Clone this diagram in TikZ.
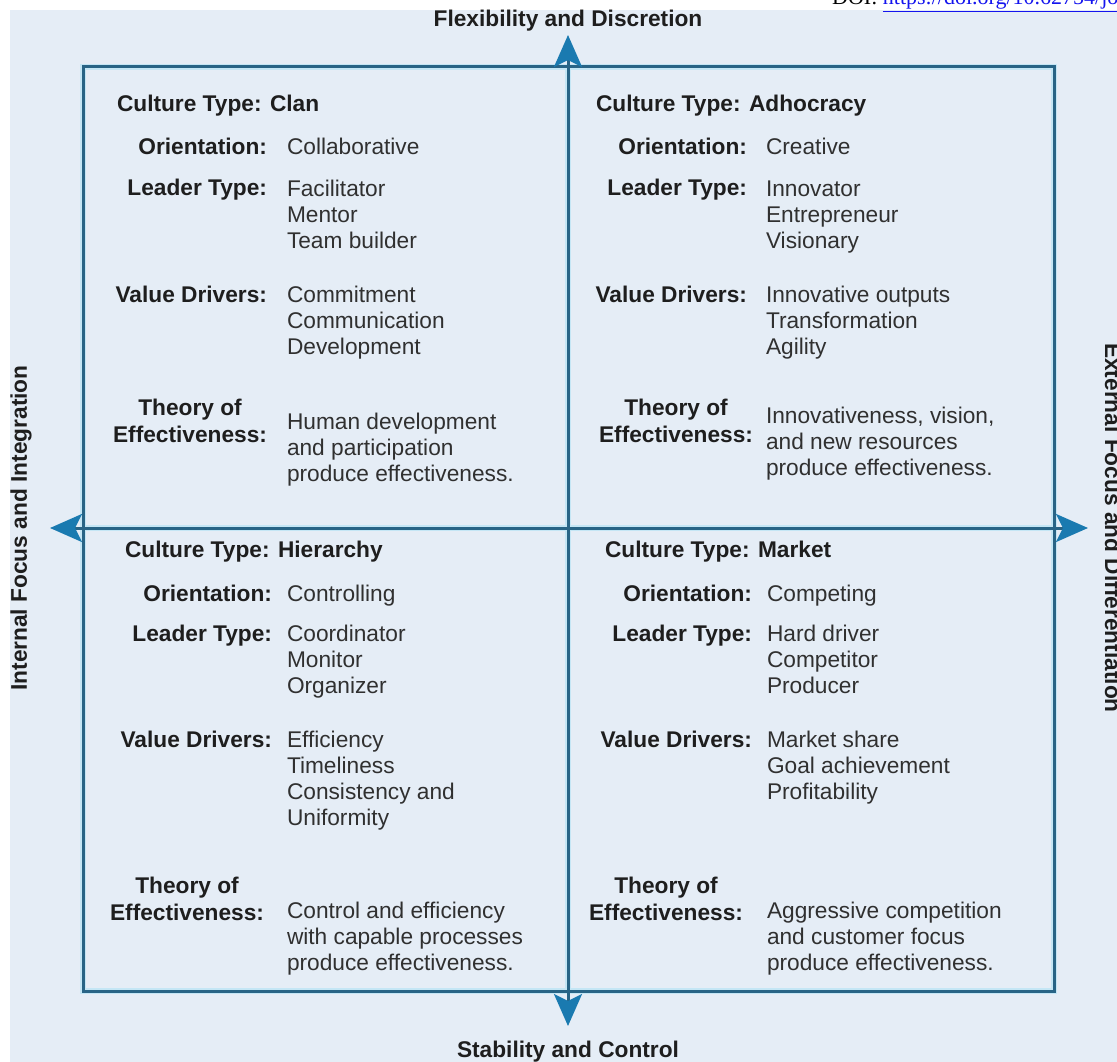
\documentclass[tikz,border=0pt]{standalone}
\usepackage{fontspec}
\setmainfont{Liberation Sans}
\newfontfamily\doifont{Liberation Serif}
\usetikzlibrary{arrows.meta}
\definecolor{bgblue}{RGB}{229,237,246}
\definecolor{framec}{RGB}{40,100,134}
\definecolor{haloc}{RGB}{196,230,245}
\definecolor{arrowc}{RGB}{26,122,176}
\definecolor{labc}{RGB}{30,30,30}
\definecolor{valc}{RGB}{48,48,48}
\definecolor{linkc}{RGB}{20,20,238}
\begin{document}
\begin{tikzpicture}[x=1pt,y=-1pt,
  basefont/.style={inner sep=0pt,outer sep=0pt,font=\fontsize{22.7}{26.3}\selectfont},
  boldfont/.style={inner sep=0pt,outer sep=0pt,font=\fontsize{22.7}{26.3}\selectfont\bfseries},
  titletext/.style={boldfont,text=labc,anchor=base west},
  labtext/.style={boldfont,text=labc,anchor=base east,align=right},
  theorytext/.style={boldfont,text=labc,anchor=base east,align=center,font=\fontsize{22.7}{27}\selectfont\bfseries},
  valtext/.style={basefont,text=valc,anchor=base west,align=left},
  axistext/.style={boldfont,text=labc,anchor=base},
  halo/.style={draw=haloc,line width=6pt},
  frameline/.style={draw=framec,line width=3pt},
  axisarrow/.style={draw=framec,line width=3pt,-{Stealth[length=32pt,width=28pt,inset=7pt,color=arrowc]}}
]
\useasboundingbox (0,0) rectangle (1117,1062);
\clip (0,0) rectangle (1117,1062);
\fill[white] (0,0) rectangle (1117,1062);
\fill[bgblue] (10,10) rectangle (1117,1062);

% DOI line (cut by the top edge)
\node[inner sep=0pt,anchor=base west,font=\doifont\fontsize{22}{24}\selectfont] (doi) at (832,5)
  {DOI: \textcolor{linkc}{\underline{https://doi.org/10.62754/jo}}};

% coordinates
\coordinate (c) at (568,528);
\coordinate (ttip) at (568,35);
\coordinate (btip) at (568,1026);
\coordinate (ltip) at (50,528);
\coordinate (rtip) at (1088,528);
\coordinate (ft) at (568,67);
\coordinate (fb) at (568,991);
\coordinate (fl) at (83,528);
\coordinate (fr) at (1054,528);

% frame
\path[halo] (83,67) rectangle (1054,991);
\path[halo] (ft) -- (fb);
\path[halo] (fl) -- (fr);
\path[frameline] (83,67) rectangle (1054,991);

% axes with arrows
\draw[axisarrow] (c) -- (ttip);
\draw[axisarrow] (c) -- (btip);
\draw[axisarrow] (c) -- (ltip);
\draw[axisarrow] (c) -- (rtip);

% axis labels
\node[axistext] (flex) at (568,27) {Flexibility and Discretion};
\node[axistext] (stab) at (568,1057) {Stability and Control};
\node[axistext,rotate=90] (intl) at (27,528) {Internal Focus and Integration};
\node[axistext,rotate=-90] (extl) at (1105,528) {External Focus and Differentiation};

% multi-line nodes are anchored at the baseline of their LAST line
% ---------- Clan ----------
\node[titletext] (tl-t) at (117,112) {Culture Type: Clan};
\node[labtext] (tl-ol) at (267,155) {Orientation:};
\node[valtext] (tl-ov) at (287,155) {Collaborative};
\node[labtext] (tl-ll) at (267,196) {Leader Type:};
\node[valtext] (tl-lv) at (287,248.6) {Facilitator\\Mentor\\Team builder};
\node[labtext] (tl-vl) at (267,302) {Value Drivers:};
\node[valtext] (tl-vv) at (287,354.6) {Commitment\\Communication\\Development};
\node[theorytext] (tl-el) at (267,442) {Theory of\\Effectiveness:};
\node[valtext] (tl-ev) at (287,481.6) {Human development\\and participation\\produce effectiveness.};

% ---------- Adhocracy ----------
\node[titletext] (tr-t) at (596,112) {Culture Type: Adhocracy};
\node[labtext] (tr-ol) at (747,155) {Orientation:};
\node[valtext] (tr-ov) at (766,155) {Creative};
\node[labtext] (tr-ll) at (747,196) {Leader Type:};
\node[valtext] (tr-lv) at (766,248.6) {Innovator\\Entrepreneur\\Visionary};
\node[labtext] (tr-vl) at (747,302) {Value Drivers:};
\node[valtext] (tr-vv) at (766,354.6) {Innovative outputs\\Transformation\\Agility};
\node[theorytext] (tr-el) at (753,442) {Theory of\\Effectiveness:};
\node[valtext] (tr-ev) at (766,475.6) {Innovativeness, vision,\\and new resources\\produce effectiveness.};

% ---------- Hierarchy ----------
\node[titletext] (bl-t) at (125,557) {Culture Type: Hierarchy};
\node[labtext] (bl-ol) at (272,601) {Orientation:};
\node[valtext] (bl-ov) at (287,601) {Controlling};
\node[labtext] (bl-ll) at (272,641) {Leader Type:};
\node[valtext] (bl-lv) at (287,693.6) {Coordinator\\Monitor\\Organizer};
\node[labtext] (bl-vl) at (272,747) {Value Drivers:};
\node[valtext] (bl-vv) at (287,825.9) {Efficiency\\Timeliness\\Consistency and\\Uniformity};
\node[theorytext] (bl-el) at (264,920) {Theory of\\Effectiveness:};
\node[valtext] (bl-ev) at (287,970.6) {Control and efficiency\\with capable processes\\produce effectiveness.};

% ---------- Market ----------
\node[titletext] (br-t) at (605,557) {Culture Type: Market};
\node[labtext] (br-ol) at (752,601) {Orientation:};
\node[valtext] (br-ov) at (767,601) {Competing};
\node[labtext] (br-ll) at (752,641) {Leader Type:};
\node[valtext] (br-lv) at (767,693.6) {Hard driver\\Competitor\\Producer};
\node[labtext] (br-vl) at (752,747) {Value Drivers:};
\node[valtext] (br-vv) at (767,799.6) {Market share\\Goal achievement\\Profitability};
\node[theorytext] (br-el) at (743,920) {Theory of\\Effectiveness:};
\node[valtext] (br-ev) at (767,970.6) {Aggressive competition\\and customer focus\\produce effectiveness.};
\end{tikzpicture}
\end{document}
